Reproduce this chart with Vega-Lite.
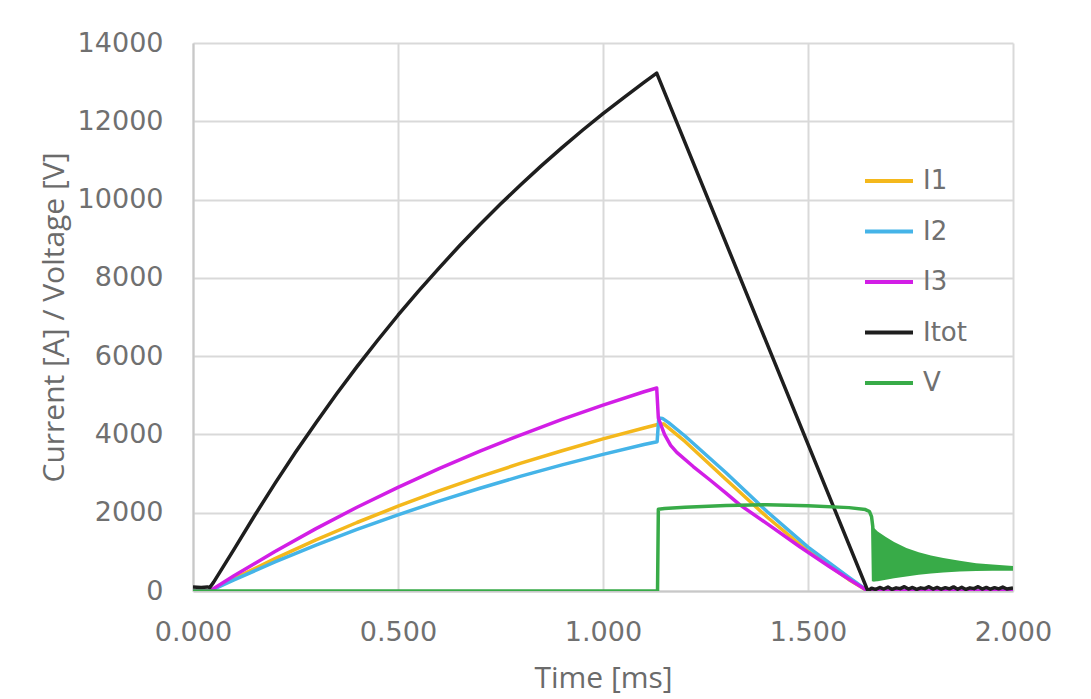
{
  "$schema": "https://vega.github.io/schema/vega-lite/v6.json",
  "autosize": {"type": "none"},
  "width": 820,
  "height": 548,
  "padding": {"left": 193, "top": 43, "right": 78, "bottom": 108},
  "background": "white",
  "config": {
    "view": {"stroke": null},
    "font": "Open Sans",
    "axis": {
      "labelFont": "DejaVu Sans",
      "titleFont": "Open Sans",
      "labelColor": "#707070",
      "titleColor": "#6b6b6b",
      "labelFontSize": 27,
      "titleFontSize": 30,
      "titleFontWeight": "normal",
      "gridColor": "#d9d9d9",
      "gridWidth": 2,
      "domainColor": "#c8c8c8",
      "domainWidth": 2,
      "ticks": false
    },
    "legend": {
      "labelFont": "DejaVu Sans",
      "labelFontSize": 26,
      "labelColor": "#707070"
    }
  },
  "datasets": {
    "main": [
      {"t": 0, "s": "I1", "v": 0}, {"t": 0.041, "s": "I1", "v": 0}, {"t": 0.1, "s": "I1", "v": 317}, {"t": 0.2, "s": "I1", "v": 827}, {"t": 0.3, "s": "I1", "v": 1304}, {"t": 0.4, "s": "I1", "v": 1750}, {"t": 0.5, "s": "I1", "v": 2167}, {"t": 0.6, "s": "I1", "v": 2558}, {"t": 0.7, "s": "I1", "v": 2923}, {"t": 0.8, "s": "I1", "v": 3265}, {"t": 0.9, "s": "I1", "v": 3584}, {"t": 1.0, "s": "I1", "v": 3885}, {"t": 1.1, "s": "I1", "v": 4164}, {"t": 1.131, "s": "I1", "v": 4246}, {"t": 1.148, "s": "I1", "v": 4270}, {"t": 1.2, "s": "I1", "v": 3820}, {"t": 1.3, "s": "I1", "v": 2850}, {"t": 1.4, "s": "I1", "v": 1890}, {"t": 1.5, "s": "I1", "v": 1020}, {"t": 1.6, "s": "I1", "v": 290}, {"t": 1.646, "s": "I1", "v": 0}, {"t": 2.0, "s": "I1", "v": 0},

      {"t": 0, "s": "I2", "v": 0}, {"t": 0.041, "s": "I2", "v": 0}, {"t": 0.1, "s": "I2", "v": 285}, {"t": 0.2, "s": "I2", "v": 743}, {"t": 0.3, "s": "I2", "v": 1172}, {"t": 0.4, "s": "I2", "v": 1572}, {"t": 0.5, "s": "I2", "v": 1947}, {"t": 0.6, "s": "I2", "v": 2298}, {"t": 0.7, "s": "I2", "v": 2626}, {"t": 0.8, "s": "I2", "v": 2933}, {"t": 0.9, "s": "I2", "v": 3221}, {"t": 1.0, "s": "I2", "v": 3491}, {"t": 1.1, "s": "I2", "v": 3741}, {"t": 1.132, "s": "I2", "v": 3815}, {"t": 1.136, "s": "I2", "v": 4420}, {"t": 1.145, "s": "I2", "v": 4410}, {"t": 1.16, "s": "I2", "v": 4300}, {"t": 1.2, "s": "I2", "v": 3960}, {"t": 1.3, "s": "I2", "v": 3020}, {"t": 1.4, "s": "I2", "v": 2030}, {"t": 1.5, "s": "I2", "v": 1120}, {"t": 1.6, "s": "I2", "v": 350}, {"t": 1.646, "s": "I2", "v": 0}, {"t": 2.0, "s": "I2", "v": 0},

      {"t": 0, "s": "I3", "v": 0}, {"t": 0.041, "s": "I3", "v": 0}, {"t": 0.1, "s": "I3", "v": 388}, {"t": 0.2, "s": "I3", "v": 1011}, {"t": 0.3, "s": "I3", "v": 1594}, {"t": 0.4, "s": "I3", "v": 2139}, {"t": 0.5, "s": "I3", "v": 2649}, {"t": 0.6, "s": "I3", "v": 3127}, {"t": 0.7, "s": "I3", "v": 3573}, {"t": 0.8, "s": "I3", "v": 3991}, {"t": 0.9, "s": "I3", "v": 4382}, {"t": 1.0, "s": "I3", "v": 4749}, {"t": 1.1, "s": "I3", "v": 5090}, {"t": 1.131, "s": "I3", "v": 5185}, {"t": 1.135, "s": "I3", "v": 4420}, {"t": 1.15, "s": "I3", "v": 4000}, {"t": 1.165, "s": "I3", "v": 3720}, {"t": 1.18, "s": "I3", "v": 3540}, {"t": 1.22, "s": "I3", "v": 3180}, {"t": 1.261, "s": "I3", "v": 2836}, {"t": 1.3, "s": "I3", "v": 2500}, {"t": 1.334, "s": "I3", "v": 2200}, {"t": 1.4, "s": "I3", "v": 1720}, {"t": 1.48, "s": "I3", "v": 1130}, {"t": 1.55, "s": "I3", "v": 640}, {"t": 1.6, "s": "I3", "v": 300}, {"t": 1.646, "s": "I3", "v": 0}, {"t": 2.0, "s": "I3", "v": 0},

      {"t": 0, "s": "Itot", "v": 100}, {"t": 0.02, "s": "Itot", "v": 90}, {"t": 0.035, "s": "Itot", "v": 105}, {"t": 0.041, "s": "Itot", "v": 90}, {"t": 0.05, "s": "Itot", "v": 220}, {"t": 0.1, "s": "Itot", "v": 1064}, {"t": 0.15, "s": "Itot", "v": 1923}, {"t": 0.2, "s": "Itot", "v": 2750}, {"t": 0.25, "s": "Itot", "v": 3543}, {"t": 0.3, "s": "Itot", "v": 4301}, {"t": 0.35, "s": "Itot", "v": 5031}, {"t": 0.4, "s": "Itot", "v": 5731}, {"t": 0.45, "s": "Itot", "v": 6400}, {"t": 0.5, "s": "Itot", "v": 7045}, {"t": 0.55, "s": "Itot", "v": 7661}, {"t": 0.6, "s": "Itot", "v": 8250}, {"t": 0.65, "s": "Itot", "v": 8820}, {"t": 0.7, "s": "Itot", "v": 9365}, {"t": 0.75, "s": "Itot", "v": 9886}, {"t": 0.8, "s": "Itot", "v": 10386}, {"t": 0.85, "s": "Itot", "v": 10868}, {"t": 0.9, "s": "Itot", "v": 11328}, {"t": 0.95, "s": "Itot", "v": 11771}, {"t": 1.0, "s": "Itot", "v": 12195}, {"t": 1.05, "s": "Itot", "v": 12600}, {"t": 1.1, "s": "Itot", "v": 12992}, {"t": 1.131, "s": "Itot", "v": 13230}, {"t": 1.646, "s": "Itot", "v": 0}, {"t": 1.655, "s": "Itot", "v": 70}, {"t": 1.665, "s": "Itot", "v": 40}, {"t": 1.675, "s": "Itot", "v": 90}, {"t": 1.685, "s": "Itot", "v": 50}, {"t": 1.695, "s": "Itot", "v": 100}, {"t": 1.705, "s": "Itot", "v": 40}, {"t": 1.715, "s": "Itot", "v": 80}, {"t": 1.725, "s": "Itot", "v": 60}, {"t": 1.735, "s": "Itot", "v": 110}, {"t": 1.745, "s": "Itot", "v": 50}, {"t": 1.755, "s": "Itot", "v": 90}, {"t": 1.765, "s": "Itot", "v": 40}, {"t": 1.775, "s": "Itot", "v": 80}, {"t": 1.785, "s": "Itot", "v": 60}, {"t": 1.795, "s": "Itot", "v": 110}, {"t": 1.805, "s": "Itot", "v": 50}, {"t": 1.815, "s": "Itot", "v": 90}, {"t": 1.825, "s": "Itot", "v": 45}, {"t": 1.835, "s": "Itot", "v": 85}, {"t": 1.845, "s": "Itot", "v": 55}, {"t": 1.855, "s": "Itot", "v": 105}, {"t": 1.865, "s": "Itot", "v": 45}, {"t": 1.875, "s": "Itot", "v": 95}, {"t": 1.885, "s": "Itot", "v": 40}, {"t": 1.895, "s": "Itot", "v": 80}, {"t": 1.905, "s": "Itot", "v": 60}, {"t": 1.915, "s": "Itot", "v": 110}, {"t": 1.925, "s": "Itot", "v": 50}, {"t": 1.935, "s": "Itot", "v": 90}, {"t": 1.945, "s": "Itot", "v": 45}, {"t": 1.955, "s": "Itot", "v": 85}, {"t": 1.965, "s": "Itot", "v": 55}, {"t": 1.975, "s": "Itot", "v": 100}, {"t": 1.985, "s": "Itot", "v": 50}, {"t": 2.0, "s": "Itot", "v": 80},

      {"t": 0, "s": "V", "v": 0}, {"t": 1.133, "s": "V", "v": 0}, {"t": 1.135, "s": "V", "v": 2090}, {"t": 1.15, "s": "V", "v": 2110}, {"t": 1.2, "s": "V", "v": 2140}, {"t": 1.3, "s": "V", "v": 2185}, {"t": 1.4, "s": "V", "v": 2205}, {"t": 1.5, "s": "V", "v": 2180}, {"t": 1.6, "s": "V", "v": 2130}, {"t": 1.64, "s": "V", "v": 2080}, {"t": 1.65, "s": "V", "v": 2030}, {"t": 1.655, "s": "V", "v": 1900}, {"t": 1.658, "s": "V", "v": 1650}, {"t": 1.66, "s": "V", "v": 250}
    ],
    "env": [
      {"t": 1.658, "lo": 240, "hi": 1640},
      {"t": 1.67, "lo": 250, "hi": 1520},
      {"t": 1.69, "lo": 285, "hi": 1380},
      {"t": 1.71, "lo": 325, "hi": 1250},
      {"t": 1.74, "lo": 370, "hi": 1100},
      {"t": 1.77, "lo": 415, "hi": 990},
      {"t": 1.8, "lo": 450, "hi": 910},
      {"t": 1.83, "lo": 470, "hi": 840},
      {"t": 1.87, "lo": 500, "hi": 770},
      {"t": 1.91, "lo": 510, "hi": 710},
      {"t": 1.95, "lo": 515, "hi": 675},
      {"t": 2.0, "lo": 520, "hi": 640}
    ]
  },
  "layer": [
    {
      "data": {"name": "env"},
      "mark": {"type": "area", "color": "#38ab48", "clip": true},
      "encoding": {
        "x": {"field": "t", "type": "quantitative", "scale": {"domain": [0, 2]}},
        "y": {"field": "lo", "type": "quantitative", "scale": {"domain": [0, 14000]}},
        "y2": {"field": "hi"}
      }
    },
    {
      "data": {"name": "main"},
      "mark": {"type": "line", "strokeWidth": 3.5, "strokeJoin": "round", "clip": true},
      "encoding": {
        "x": {
          "field": "t", "type": "quantitative",
          "scale": {"domain": [0, 2], "nice": false},
          "axis": {"values": [0, 0.5, 1, 1.5, 2], "format": ".3f", "labelPadding": 28, "title": "Time [ms]", "titlePadding": 18, "labelFlush": false}
        },
        "y": {
          "field": "v", "type": "quantitative",
          "scale": {"domain": [0, 14000], "nice": false},
          "axis": {"values": [0, 2000, 4000, 6000, 8000, 10000, 12000, 14000], "format": "d", "labelPadding": 30, "title": "Current [A] / Voltage [V]", "titlePadding": 8}
        },
        "color": {
          "field": "s", "type": "nominal",
          "scale": {"domain": ["I1", "I2", "I3", "Itot", "V"], "range": ["#f4b81c", "#45b4e8", "#d21ee6", "#1e1e1e", "#38ab48"]},
          "legend": {
            "title": null,
            "orient": "none",
            "legendX": 670,
            "legendY": 112,
            "symbolType": "stroke",
            "symbolSize": 2304,
            "symbolStrokeWidth": 4,
            "rowPadding": 11.5,
            "labelOffset": 8,
            "padding": 0
          }
        }
      }
    }
  ]
}
